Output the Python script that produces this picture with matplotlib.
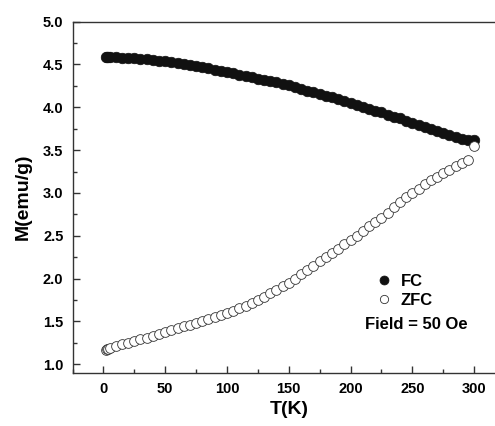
import matplotlib
matplotlib.use("Agg")
import matplotlib.pyplot as plt
from matplotlib.ticker import MultipleLocator

plt.rcParams["font.family"] = ["Liberation Sans", "DejaVu Sans"]
plt.rcParams["font.weight"] = "bold"

# field-cooled curve
T_FC = [2, 3, 4, 5, 10, 15, 20, 25, 30, 35, 40, 45, 50, 55, 60, 65, 70, 75, 80,
        85, 90, 95, 100, 105, 110, 115, 120, 125, 130, 135, 140, 145, 150, 155,
        160, 165, 170, 175, 180, 185, 190, 195, 200, 205, 210, 215, 220, 225,
        230, 235, 240, 245, 250, 255, 260, 265, 270, 275, 280, 285, 290, 295, 300]
M_FC = [4.585, 4.585, 4.585, 4.585, 4.585, 4.58, 4.575, 4.57, 4.565, 4.56, 4.555,
        4.545, 4.535, 4.525, 4.515, 4.505, 4.495, 4.48, 4.47, 4.455, 4.44, 4.425,
        4.41, 4.395, 4.38, 4.365, 4.35, 4.335, 4.32, 4.305, 4.29, 4.27, 4.255,
        4.235, 4.215, 4.195, 4.175, 4.155, 4.135, 4.115, 4.095, 4.07, 4.05, 4.03,
        4.005, 3.985, 3.96, 3.94, 3.915, 3.89, 3.87, 3.845, 3.82, 3.795, 3.775,
        3.75, 3.725, 3.70, 3.68, 3.655, 3.635, 3.615, 3.62]

# zero-field-cooled curve
T_ZFC = [2, 3, 4, 5, 10, 15, 20, 25, 30, 35, 40, 45, 50, 55, 60, 65, 70, 75, 80,
         85, 90, 95, 100, 105, 110, 115, 120, 125, 130, 135, 140, 145, 150, 155,
         160, 165, 170, 175, 180, 185, 190, 195, 200, 205, 210, 215, 220, 225,
         230, 235, 240, 245, 250, 255, 260, 265, 270, 275, 280, 285, 290, 295, 300]
M_ZFC = [1.17, 1.175, 1.18, 1.19, 1.21, 1.23, 1.25, 1.27, 1.29, 1.31, 1.33, 1.35,
         1.37, 1.395, 1.42, 1.44, 1.46, 1.48, 1.50, 1.525, 1.55, 1.57, 1.595,
         1.62, 1.65, 1.68, 1.715, 1.75, 1.79, 1.83, 1.87, 1.91, 1.95, 2.00,
         2.05, 2.10, 2.15, 2.20, 2.25, 2.30, 2.35, 2.40, 2.45, 2.50, 2.555, 2.61,
         2.66, 2.71, 2.77, 2.83, 2.89, 2.95, 3.00, 3.05, 3.10, 3.15, 3.19, 3.23,
         3.27, 3.31, 3.345, 3.38, 3.55]

fig = plt.figure(figsize=(4.95, 4.26), dpi=100)
ax = fig.add_axes([0.1465, 0.1251, 0.8737, 0.824])

ax.plot(T_FC, M_FC, "o", color="#111111", markersize=7.6, markeredgewidth=0.5,
        markeredgecolor="#111111", label="FC", zorder=3)
ax.plot(T_ZFC, M_ZFC, "o", markerfacecolor="white", markeredgecolor="#333333",
        markersize=7.0, markeredgewidth=0.6, label="ZFC", zorder=4)

ax.set_xlim(-25, 325)
ax.set_ylim(0.9, 5.0)
ax.xaxis.set_major_locator(MultipleLocator(50))
ax.xaxis.set_minor_locator(MultipleLocator(25))
ax.yaxis.set_major_locator(MultipleLocator(0.5))
ax.yaxis.set_minor_locator(MultipleLocator(0.25))
ax.tick_params(which="both", direction="in", color="#333333", width=1.0,
               top=False, right=False)
ax.tick_params(which="major", length=5, labelsize=10.5, pad=6.5)
ax.tick_params(which="minor", length=3)
ax.set_xticks([0, 50, 100, 150, 200, 250, 300])
ax.set_yticklabels([f"{v:.1f}" for v in ax.get_yticks()])
for spine in ax.spines.values():
    spine.set_linewidth(1.0)
    spine.set_color("#333333")

ax.set_xlabel("T(K)", fontsize=14, fontweight="bold", labelpad=4)
ax.set_ylabel("M(emu/g)", fontsize=14, fontweight="bold", labelpad=8)

leg = ax.legend(loc="upper left", bbox_to_anchor=(0.682, 0.305), frameon=False,
                fontsize=12, borderpad=0, handletextpad=0.5, labelspacing=0.25,
                handlelength=1.0, markerscale=0.85)
ax.text(0.676, 0.137, "Field = 50 Oe", transform=ax.transAxes, fontsize=12,
        fontweight="bold", va="center", ha="left")

fig.savefig("out.png", dpi=100)
